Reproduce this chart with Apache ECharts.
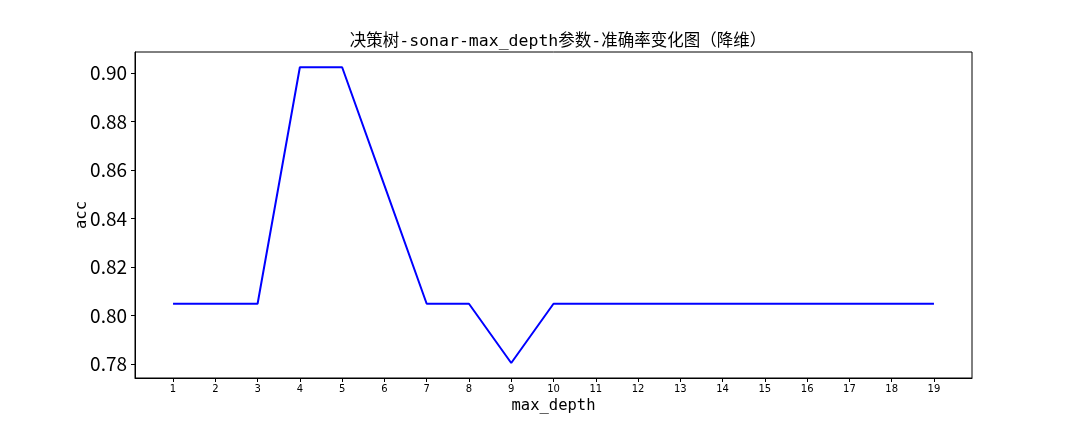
<!DOCTYPE html>
<html><head><meta charset="utf-8">
<script src="https://cdn.jsdelivr.net/npm/echarts@6/dist/echarts.min.js"></script>
<style>html,body{margin:0;padding:0;background:#fff}#c{width:1080px;height:432px}</style>
</head><body><div id="c"></div>
<script>
const depths = [1,2,3,4,5,6,7,8,9,10,11,12,13,14,15,16,17,18,19];
const acc = [0.8049,0.8049,0.8049,0.9024,0.9024,0.8537,0.8049,0.8049,0.7805,0.8049,0.8049,0.8049,0.8049,0.8049,0.8049,0.8049,0.8049,0.8049,0.8049];
const yTicks = [0.78,0.80,0.82,0.84,0.86,0.88,0.90];
const titleText = '决策树-sonar-max_depth参数-准确率变化图（降维）';
const FONT = '"DejaVu Sans Mono", "Noto Sans CJK SC", sans-serif';
const chart = echarts.init(document.getElementById('c'), null, {renderer:'canvas'});
chart.setOption({
  animation:false,
  backgroundColor:'#fff',
  title:{text:titleText,left:553,top:28,textAlign:'center',textStyle:{fontFamily:FONT,fontSize:16.5,fontWeight:'normal',color:'#000'}},
  grid:{left:135,right:108,top:52,bottom:54,show:true,borderColor:'#000',borderWidth:1,backgroundColor:'transparent'},
  xAxis:{type:'value',min:0.1,max:19.9,name:'max_depth',nameLocation:'middle',nameGap:20,nameMoveOverlap:false,
    nameTextStyle:{fontFamily:FONT,fontSize:15.5,color:'#000'},
    axisLine:{show:true,lineStyle:{color:'#000',width:1}},
    axisTick:{show:true,length:4,inside:false,customValues:depths,lineStyle:{color:'#000'}},
    axisLabel:{customValues:depths,fontFamily:'"DejaVu Sans", sans-serif',fontSize:10,color:'#000',margin:6},
    splitLine:{show:false}},
  yAxis:{type:'value',min:0.7743,max:0.9087,name:'acc',nameLocation:'middle',nameGap:45,nameRotate:90,nameMoveOverlap:false,
    nameTextStyle:{fontFamily:FONT,fontSize:15.5,color:'#000'},
    axisLine:{show:true,lineStyle:{color:'#000',width:1}},
    axisTick:{show:true,length:4,customValues:yTicks,lineStyle:{color:'#000'}},
    axisLabel:{customValues:yTicks,formatter:v=>v.toFixed(2),fontFamily:'"Noto Sans CJK SC", sans-serif',fontSize:19,color:'#000',margin:8},
    splitLine:{show:false}},
  series:[{type:'line',data:depths.map((d,i)=>[d,acc[i]]),showSymbol:false,symbol:'none',
    lineStyle:{color:'#0000ff',width:2},itemStyle:{color:'#0000ff'}}]
});
</script></body></html>
